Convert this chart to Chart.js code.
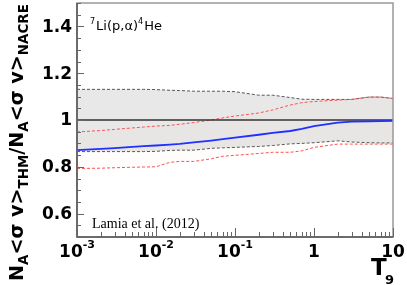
<!DOCTYPE html>
<html>
<head>
<meta charset="utf-8">
<script src="https://cdn.jsdelivr.net/npm/chart.js@4"></script>
<style>
  html, body { margin: 0; padding: 0; background: #fff; }
  #wrap { width: 407px; height: 285px; }
</style>
</head>
<body>
<div id="wrap"><canvas id="c" width="407" height="285"></canvas></div>
<script>
// T9 grid (GK)
const t9 = [0.001, 0.002, 0.003, 0.005, 0.007, 0.01, 0.015, 0.02, 0.03, 0.05, 0.07, 0.1, 0.2, 0.3, 0.5, 0.7, 1, 2, 3, 5, 7, 10];

// ratio THM / NACRE
const thmRatio  = [0.871, 0.877, 0.880, 0.885, 0.888, 0.891, 0.895, 0.898, 0.904, 0.912, 0.918, 0.925, 0.937, 0.945, 0.953, 0.962, 0.974, 0.989, 0.993, 0.994, 0.995, 0.996];
// NACRE uncertainty band (black dashed)
const nacreUp   = [1.131, 1.131, 1.131, 1.131, 1.131, 1.130, 1.127, 1.126, 1.123, 1.123, 1.123, 1.121, 1.106, 1.106, 1.096, 1.089, 1.088, 1.088, 1.088, 1.098, 1.098, 1.092];
const nacreLow  = [0.865, 0.865, 0.865, 0.865, 0.865, 0.866, 0.870, 0.871, 0.871, 0.879, 0.881, 0.883, 0.887, 0.891, 0.898, 0.900, 0.903, 0.911, 0.906, 0.903, 0.902, 0.902];
// THM uncertainty band (red dashed)
const thmUp     = [0.949, 0.955, 0.960, 0.966, 0.970, 0.974, 0.977, 0.982, 0.989, 1.000, 1.009, 1.017, 1.030, 1.043, 1.064, 1.074, 1.079, 1.085, 1.088, 1.098, 1.098, 1.092];
const thmLow    = [0.793, 0.794, 0.796, 0.798, 0.799, 0.800, 0.819, 0.823, 0.823, 0.834, 0.845, 0.849, 0.857, 0.862, 0.862, 0.868, 0.883, 0.897, 0.897, 0.897, 0.897, 0.897];

// reference line at 1
const unityX = [0.001, 10];
const unityY = [1, 1];

// axis ticks
const xMajor = [0.001, 0.01, 0.1, 1, 10];
const xLabels = [['10', '-3'], ['10', '-2'], ['10', '-1'], ['1', ''], ['10', '']];
const xMinorMult = [2, 3, 4, 5, 6, 7, 8, 9];
const yMajor = [0.6, 0.8, 1.0, 1.2, 1.4];
const yLabels = ['0.6', '0.8', '1', '1.2', '1.4'];
const yMinor = [0.5, 0.55, 0.65, 0.7, 0.75, 0.85, 0.9, 0.95, 1.05, 1.1, 1.15, 1.25, 1.3, 1.35, 1.45, 1.5];

const pts = (xs, ys) => xs.map((x, i) => ({ x: x, y: ys[i] }));

const BOLD = '"DejaVu Sans", "Liberation Sans", Arial, sans-serif';

const decorPlugin = {
  id: 'decor',
  afterDraw(chart) {
    const ctx = chart.ctx;
    const xs = chart.scales.x, ys = chart.scales.y;
    const a = chart.chartArea;
    ctx.save();

    // frame
    ctx.strokeStyle = '#999';
    ctx.lineWidth = 1.5;
    ctx.strokeRect(a.left, a.top, a.right - a.left, a.bottom - a.top);
    ctx.strokeStyle = '#555';
    ctx.beginPath();
    ctx.moveTo(a.left, a.top);
    ctx.lineTo(a.left, a.bottom);
    ctx.lineTo(a.right, a.bottom);
    ctx.stroke();

    // ticks (inward)
    ctx.strokeStyle = '#666';
    ctx.lineWidth = 1;
    ctx.beginPath();
    yMajor.forEach(v => { const p = Math.round(ys.getPixelForValue(v)) + 0.5; ctx.moveTo(a.left, p); ctx.lineTo(a.left + 7, p); });
    yMinor.forEach(v => { const p = Math.round(ys.getPixelForValue(v)) + 0.5; ctx.moveTo(a.left, p); ctx.lineTo(a.left + 4, p); });
    xMajor.forEach(v => { const p = Math.round(xs.getPixelForValue(v)) + 0.5; ctx.moveTo(p, a.bottom); ctx.lineTo(p, a.bottom - 9); });
    xMajor.slice(0, -1).forEach(d => xMinorMult.forEach(m => {
      const p = Math.round(xs.getPixelForValue(d * m)) + 0.5; ctx.moveTo(p, a.bottom); ctx.lineTo(p, a.bottom - 5);
    }));
    ctx.stroke();

    // y tick labels
    ctx.fillStyle = '#000';
    ctx.font = 'bold 17px ' + BOLD;
    ctx.textAlign = 'right';
    ctx.textBaseline = 'middle';
    yMajor.forEach((v, i) => ctx.fillText(yLabels[i], 72, ys.getPixelForValue(v) + 1));

    // x tick labels with exponents
    ctx.textAlign = 'left';
    ctx.textBaseline = 'alphabetic';
    xMajor.forEach((v, i) => {
      const [base, exp] = xLabels[i];
      ctx.font = 'bold 17px ' + BOLD;
      const wb = ctx.measureText(base).width;
      ctx.font = 'bold 11px ' + BOLD;
      const we = exp ? ctx.measureText(exp).width : 0;
      const x0 = xs.getPixelForValue(v) - (wb + we) / 2;
      ctx.font = 'bold 17px ' + BOLD;
      ctx.fillText(base, x0, 257);
      if (exp) { ctx.font = 'bold 11px ' + BOLD; ctx.fillText(exp, x0 + wb, 248); }
    });

    // x title T9
    ctx.font = 'bold 23px ' + BOLD;
    ctx.fillText('T', 371, 275);
    ctx.font = 'bold 13px ' + BOLD;
    ctx.fillText('9', 385, 284);

    // y title, rotated
    const parts = [['N', 0], ['A', 1], ['<σ v>', 0], ['THM', 1], ['/N', 0], ['A', 1], ['<σ v>', 0], ['NACRE', 1]];
    const measure = (sz) => parts.reduce((s, p) => {
      ctx.font = 'bold ' + (p[1] ? sz * 0.7 : sz) + 'px ' + BOLD;
      return s + ctx.measureText(p[0]).width;
    }, 0);
    const size = 20 * 277 / measure(20);
    ctx.translate(23, 281);
    ctx.rotate(-Math.PI / 2);
    let cx = 0;
    parts.forEach(p => {
      ctx.font = 'bold ' + (p[1] ? size * 0.7 : size) + 'px ' + BOLD;
      ctx.fillText(p[0], cx, p[1] ? 5 : 0);
      cx += ctx.measureText(p[0]).width;
    });
    ctx.setTransform(1, 0, 0, 1, 0, 0);

    // reaction label
    const sans = '"DejaVu Sans", Arial, sans-serif';
    let tx = 90;
    [['7', 1], ['Li(p,α)', 0], ['4', 1], ['He', 0]].forEach(p => {
      ctx.font = (p[1] ? '8px ' : '13px ') + sans;
      ctx.fillText(p[0], tx, p[1] ? 24 : 30);
      tx += ctx.measureText(p[0]).width + (p[1] ? 1 : 0);
    });

    // reference
    ctx.font = '14px "Liberation Serif", "Times New Roman", serif';
    ctx.fillText('Lamia et al. (2012)', 92, 228);

    ctx.restore();
  }
};

new Chart(document.getElementById('c'), {
  type: 'line',
  data: {
    datasets: [
      { label: 'NACRE up', data: pts(t9, nacreUp), borderColor: '#555', borderWidth: 1, borderDash: [3, 2],
        fill: '+1', backgroundColor: 'rgba(150,150,150,0.22)', order: 5 },
      { label: 'NACRE low', data: pts(t9, nacreLow), borderColor: '#555', borderWidth: 1, borderDash: [3, 2],
        fill: false, order: 4 },
      { label: 'THM up', data: pts(t9, thmUp), borderColor: '#ff5050', borderWidth: 1, borderDash: [3, 2],
        fill: '+1', backgroundColor: 'rgba(255,160,160,0.03)', order: 3 },
      { label: 'THM low', data: pts(t9, thmLow), borderColor: '#ff5050', borderWidth: 1, borderDash: [3, 2],
        fill: false, order: 2 },
      { label: 'unity', data: pts(unityX, unityY), borderColor: '#333', borderWidth: 1.5, fill: false, order: 1 },
      { label: 'THM/NACRE', data: pts(t9, thmRatio), borderColor: '#2030ff', borderWidth: 1.8, fill: false, order: 0 }
    ]
  },
  options: {
    responsive: false,
    animation: false,
    devicePixelRatio: 1,
    layout: { padding: { top: 3, right: 14, left: 0, bottom: 0 } },
    elements: { point: { radius: 0 }, line: { tension: 0 } },
    plugins: { legend: { display: false }, tooltip: { enabled: false } },
    scales: {
      x: {
        type: 'logarithmic', min: 0.001, max: 10,
        ticks: { display: false }, grid: { display: false }, border: { display: false },
        afterFit: s => { s.height = 48; }
      },
      y: {
        type: 'linear', min: 0.5, max: 1.5,
        ticks: { display: false }, grid: { display: false }, border: { display: false },
        afterFit: s => { s.width = 77; }
      }
    }
  },
  plugins: [decorPlugin]
});
</script>
</body>
</html>
